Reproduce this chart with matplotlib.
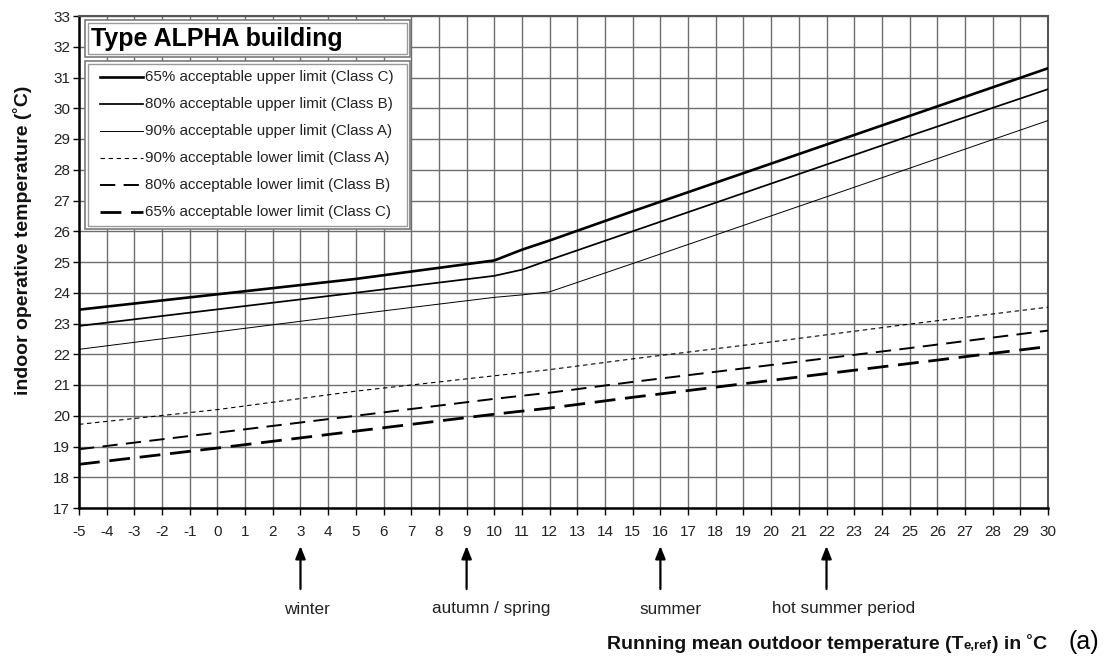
import matplotlib
matplotlib.use("Agg")
import matplotlib.pyplot as plt
from matplotlib.lines import Line2D
from matplotlib.patches import Rectangle
from matplotlib.offsetbox import TextArea, HPacker, AnchoredOffsetbox

plt.rcParams["font.family"] = ["Liberation Sans", "DejaVu Sans"]
plt.rcParams["lines.scale_dashes"] = False

# Running mean outdoor temperature (breakpoints of the limit lines)
t_ref = [-5, 0, 5, 10, 11, 12, 15, 20, 25, 30]

# Indoor operative temperature limits
upper_65 = [23.45, 23.95, 24.45, 25.05, 25.40, 25.70, 26.65, 28.20, 29.75, 31.30]
upper_80 = [22.92, 23.46, 24.00, 24.55, 24.75, 25.07, 26.00, 27.55, 29.10, 30.62]
upper_90 = [22.16, 22.73, 23.30, 23.85, 23.93, 24.03, 24.95, 26.50, 28.05, 29.60]
lower_90 = [19.72, 20.20, 20.80, 21.30, 21.40, 21.50, 21.85, 22.40, 22.98, 23.53]
lower_80 = [18.91, 19.45, 20.00, 20.55, 20.65, 20.75, 21.10, 21.65, 22.20, 22.77]
lower_65 = [18.42, 18.95, 19.50, 20.05, 20.15, 20.25, 20.60, 21.15, 21.70, 22.25]

series_labels = [
    "65% acceptable upper limit (Class C)",
    "80% acceptable upper limit (Class B)",
    "90% acceptable upper limit (Class A)",
    "90% acceptable lower limit (Class A)",
    "80% acceptable lower limit (Class B)",
    "65% acceptable lower limit (Class C)",
]

x_ticks = list(range(-5, 31))
y_ticks = list(range(17, 34))

season_names = ["winter", "autumn / spring", "summer", "hot summer period"]
season_t = [3, 9, 16, 22]

title_text = "Type ALPHA building"
ylabel_text = "indoor operative temperature (\u02daC)"
panel_tag = "(a)"

# ---------------------------------------------------------------------------
W, H = 1115, 668
fig = plt.figure(figsize=(W / 100, H / 100), dpi=100)


def fx(px):
    return px / W


def fy(py):
    return 1 - py / H


ax = fig.add_axes([fx(79), fy(508), (1048 - 79) / W, (508 - 16) / H])

styles = [
    dict(color="black", lw=1.9, ls="-"),
    dict(color="black", lw=1.25, ls="-"),
    dict(color="black", lw=0.7, ls="-"),
    dict(color="black", lw=0.8, ls=(0, (3.2, 2.6))),
    dict(color="black", lw=1.4, ls=(0, (11, 6))),
    dict(color="black", lw=2.0, ls=(0, (15, 7))),
]

all_series = [upper_65, upper_80, upper_90, lower_90, lower_80, lower_65]
for vals, st, lab in zip(all_series, styles, series_labels):
    ax.plot(t_ref, vals, label=lab, zorder=3, solid_joinstyle="round", **st)

ax.set_xlim(-5, 30)
ax.set_ylim(17, 33)
ax.set_xticks(x_ticks)
ax.set_yticks(y_ticks)
ax.set_xticklabels([str(v) for v in x_ticks])
ax.set_yticklabels([str(v) for v in y_ticks])
ax.grid(True, color="#6e6e6e", lw=1.0, zorder=1)
ax.set_axisbelow(True)
ax.tick_params(axis="x", direction="out", length=5, width=1, pad=7,
               labelsize=11, labelcolor="#222222")
ax.tick_params(axis="y", direction="out", length=4, width=1, pad=2.5,
               labelsize=11, labelcolor="#222222")
for side in ["left", "bottom"]:
    ax.spines[side].set_color("black")
    ax.spines[side].set_linewidth(1.8)
for side in ["top", "right"]:
    ax.spines[side].set_color("#555555")
    ax.spines[side].set_linewidth(1.5)

ax.set_ylabel(ylabel_text, fontsize=14, fontweight="bold", color="#111111")
ax.yaxis.set_label_coords(-0.0485, 0.545)

# Title box and legend box (double grey frames on white)
for (x0, y0, x1, y1) in [(85, 20, 410, 57), (85, 61, 410, 229)]:
    fig.add_artist(Rectangle((fx(x0), fy(y1)), fx(x1) - fx(x0), fy(y0) - fy(y1),
                             transform=fig.transFigure, facecolor="white",
                             edgecolor="#7a7a7a", lw=1.2, zorder=5))
    fig.add_artist(Rectangle((fx(x0 + 3), fy(y1 - 3)), fx(x1 - 3) - fx(x0 + 3),
                             fy(y0 + 3) - fy(y1 - 3), transform=fig.transFigure,
                             facecolor="none", edgecolor="#9a9a9a", lw=1.0, zorder=6))

fig.text(fx(91), fy(39), title_text, fontsize=18, fontweight="bold",
         ha="left", va="center", zorder=7)

rows = [77, 104, 131, 158, 185, 212]
for row, st, lab in zip(rows, styles, series_labels):
    fig.add_artist(Line2D([fx(100), fx(143)], [fy(row), fy(row)],
                          transform=fig.transFigure, zorder=7, **st))
    fig.text(fx(145), fy(row), lab, fontsize=10.9, color="#222222",
             ha="left", va="center", zorder=7)

# Season arrows under the axis
label_shift = [0.25, 0.9, 0.35, 0.6]
for name, t, dx in zip(season_names, season_t, label_shift):
    ax.annotate("", xy=(t, fy(546)), xycoords=("data", "figure fraction"),
                xytext=(t, fy(589)), textcoords=("data", "figure fraction"),
                arrowprops=dict(arrowstyle="-|>,head_length=0.75,head_width=0.3",
                                color="black", lw=1.6, shrinkA=0, shrinkB=0))
    ax.annotate(name, xy=(t + dx, fy(609)), xycoords=("data", "figure fraction"),
                ha="center", va="center", fontsize=12.3, color="#222222")

# Axis title with the small "e,ref" index
bold = dict(fontsize=14, fontweight="bold", color="#111111")
small = dict(fontsize=9.5, fontweight="bold", color="#111111")
packer = HPacker(children=[
    TextArea("Running mean outdoor temperature (T", textprops=bold),
    TextArea("e,ref", textprops=small),
    TextArea(") in \u02daC", textprops=bold),
], align="baseline", pad=0, sep=0)
fig.add_artist(AnchoredOffsetbox(loc="lower right", child=packer, pad=0, borderpad=0,
                                 frameon=False, bbox_to_anchor=(fx(1047), fy(653)),
                                 bbox_transform=fig.transFigure))

fig.text(fx(1068), fy(642), panel_tag, fontsize=18, ha="left", va="center")

fig.savefig("out.png", dpi=100, facecolor="white")
